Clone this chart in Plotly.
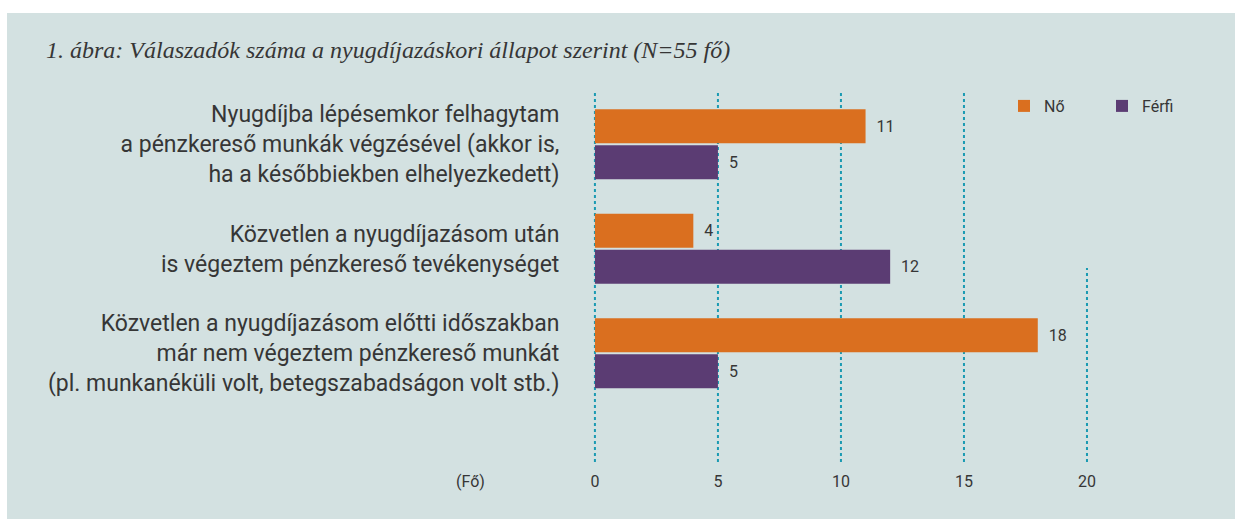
import plotly.graph_objects as go

categories = [
    "Nyugdíjba lépésemkor felhagytam<br>a pénzkereső munkák végzésével (akkor is,<br>ha a későbbiekben elhelyezkedett)",
    "Közvetlen a nyugdíjazásom után<br>is végeztem pénzkereső tevékenységet",
    "Közvetlen a nyugdíjazásom előtti időszakban<br>már nem végeztem pénzkereső munkát<br>(pl. munkanéküli volt, betegszabadságon volt stb.)",
]
series_names = ["Nő", "Férfi"]
no_values = [11, 4, 18]
ferfi_values = [5, 12, 5]
x_ticks = [0, 5, 10, 15, 20]
title_text = "1. ábra: Válaszadók száma a nyugdíjazáskori állapot szerint (N=55 fő)"
unit_text = "(Fő)"

W, H = 1235, 519
L, R, T, B = 590, 25, 93, 57
pw, ph = W - L - R, H - T - B

def px_x(px):
    return (px - L) / pw

def px_y(py):
    return (H - B - py) / ph

colors = ["#da6f1f", "#5b3c73"]
txt = "#363636"
font_main = "Roboto"

fig = go.Figure()
for name, vals, col in zip(series_names, [no_values, ferfi_values], colors):
    fig.add_trace(go.Bar(
        y=categories, x=vals, name=name, orientation="h",
        marker=dict(color=col, line=dict(width=0)),
        text=vals, texttemplate="  %{x}", textposition="outside",
        textfont=dict(size=16, color=txt, family=font_main),
        cliponaxis=False,
    ))

shapes = [dict(type="rect", xref="paper", yref="paper",
               x0=px_x(7), x1=px_x(1245), y0=px_y(530), y1=px_y(13),
               fillcolor="#d3e1e1", line=dict(width=0), layer="below")]
for v in x_ticks:
    y_top = 1 if v != 20 else px_y(268)
    shapes.append(dict(type="line", xref="x", yref="paper", x0=v, x1=v,
                       y0=0, y1=y_top,
                       line=dict(color="#1a9ab2", width=2, dash="dot"),
                       layer="below"))

annotations = [
    dict(text="<i>" + title_text + "</i>", xref="paper", yref="paper", x=px_x(44), y=px_y(50),
         xanchor="left", yanchor="middle", showarrow=False,
         font=dict(family="Liberation Serif", size=24, color=txt)),
    dict(text=unit_text, xref="paper", yref="paper", x=px_x(470), y=px_y(481),
         xanchor="center", yanchor="middle", showarrow=False,
         font=dict(family=font_main, size=16, color=txt)),
]

fig.update_layout(
    width=W, height=H,
    margin=dict(l=L, r=R, t=T, b=B, pad=0),
    paper_bgcolor="white", plot_bgcolor="rgba(0,0,0,0)",
    barmode="group", bargap=0.311, bargroupgap=0.057,
    showlegend=True,
    legend=dict(orientation="h", x=px_x(1004), y=px_y(89), xanchor="left", yanchor="top",
                font=dict(family=font_main, size=16, color=txt),
                bgcolor="rgba(0,0,0,0)", traceorder="normal",
                entrywidth=53, entrywidthmode="pixels"),
    xaxis=dict(range=[-0.2, 25], tickvals=x_ticks, showgrid=False, zeroline=False,
               showline=False, ticks="outside", ticklen=5, tickcolor="rgba(0,0,0,0)",
               tickfont=dict(family=font_main, size=16, color=txt)),
    yaxis=dict(range=[3.04, -0.49], showgrid=False, zeroline=False, showline=False,
               ticks="outside", ticklen=25, tickcolor="rgba(0,0,0,0)",
               tickfont=dict(family=font_main, size=23, color=txt)),
    shapes=shapes, annotations=annotations,
    font=dict(family=font_main, color=txt),
)

fig.write_html("out.html", config={"displayModeBar": False},
               post_script="document.body.style.margin='0px';document.body.style.overflow='hidden';")
